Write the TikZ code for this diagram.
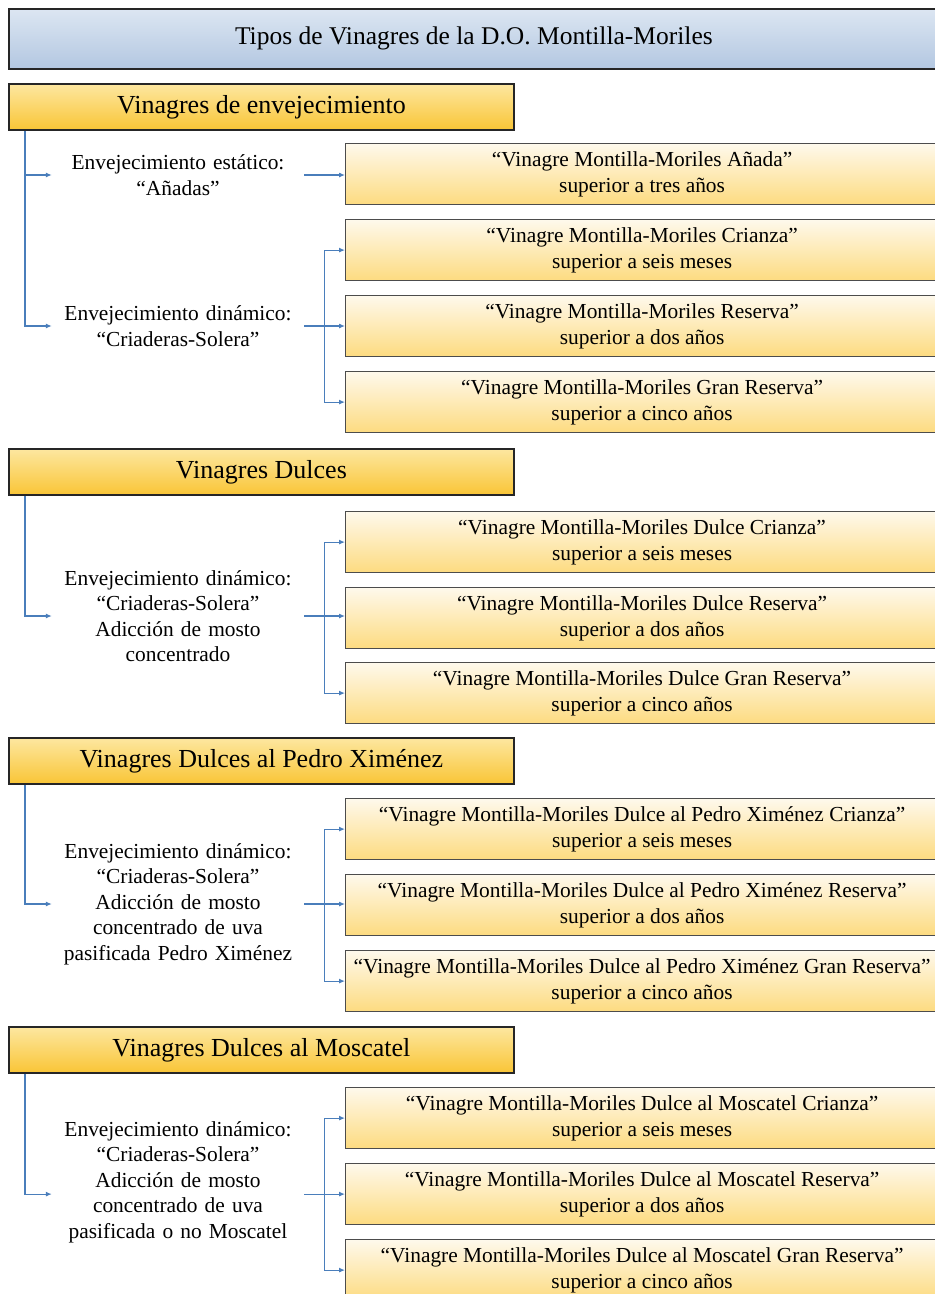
\documentclass[tikz,border=0pt]{standalone}
\usepackage{fontspec}
\setmainfont{Liberation Serif}
\usetikzlibrary{arrows.meta,calc}
\definecolor{titletop}{HTML}{DCE6F2}
\definecolor{titlebot}{HTML}{B3C7E1}
\definecolor{grouptop}{HTML}{FDE7A0}
\definecolor{groupbot}{HTML}{F9C536}
\definecolor{kindtop}{HTML}{FEF9EC}
\definecolor{kindbot}{HTML}{FDDB80}
\definecolor{linkblue}{HTML}{4A7EBB}
\begin{document}
\begin{tikzpicture}[x=1pt,y=-1pt,
  title/.style={draw=black!85, line width=1.8pt, top color=titletop, bottom color=titlebot,
    minimum width=930pt, minimum height=60pt, anchor=north west, font=\fontsize{25.5}{29}\selectfont},
  group/.style={draw=black!85, line width=1.8pt, top color=grouptop, bottom color=groupbot,
    minimum width=505pt, minimum height=46pt, anchor=north west, font=\fontsize{26}{29}\selectfont},
  kind/.style={draw=black!70, line width=1.2pt, top color=kindtop, bottom color=kindbot,
    minimum width=593pt, minimum height=61pt, anchor=north west, align=center,
    font=\fontsize{21.4}{25.5}\selectfont},
  method/.style={align=center, text width=244pt, inner xsep=4pt, font=\fontsize{21.4}{25.5}\selectfont},
  link/.style={draw=linkblue, line width=1.1pt, -{Latex[length=6pt,width=5pt]}}]
\useasboundingbox (0,0) rectangle (935,1294);
\node[title] (main) at (8,8) {Tipos de Vinagres de la D.O. Montilla-Moriles};
% Vinagres de envejecimiento
\node[group] (g1) at (8,83) {Vinagres de envejecimiento};
\node[kind] (k11) at (345,143) {“Vinagre Montilla-Moriles Añada”\\superior a tres años};
\node[kind] (k12) at (345,219) {“Vinagre Montilla-Moriles Crianza”\\superior a seis meses};
\node[kind] (k13) at (345,295) {“Vinagre Montilla-Moriles Reserva”\\superior a dos años};
\node[kind] (k14) at (345,371) {“Vinagre Montilla-Moriles Gran Reserva”\\superior a cinco años};
\node[method] (m11) at (178,175) {Envejecimiento estático:\\“Añadas”};
\node[method] (m12) at (178,326) {Envejecimiento dinámico:\\“Criaderas-Solera”};
\coordinate (s1) at ([xshift=17pt]g1.south west);
\draw[link] (s1) |- (m11.west);
\draw[link] (s1) |- (m12.west);
\draw[link] (m11.east) -- (m11.east -| k11.west);
\draw[link] (m12.east) -- (m12.east -| k13.west);
\coordinate (r1) at ($(m12.east)!0.5!(m12.east -| k13.west)$);
\draw[link] (r1) |- (k12.west);
\draw[link] (r1) |- (k14.west);
% Vinagres Dulces
\node[group] (g2) at (8,448) {Vinagres Dulces};
\node[kind] (k21) at (345,511) {“Vinagre Montilla-Moriles Dulce Crianza”\\superior a seis meses};
\node[kind] (k22) at (345,587) {“Vinagre Montilla-Moriles Dulce Reserva”\\superior a dos años};
\node[kind] (k23) at (345,662) {“Vinagre Montilla-Moriles Dulce Gran Reserva”\\superior a cinco años};
\node[method] (m2) at (178,616) {Envejecimiento dinámico:\\“Criaderas-Solera”\\Adicción de mosto\\concentrado};
\coordinate (s2) at ([xshift=17pt]g2.south west);
\draw[link] (s2) |- (m2.west);
\draw[link] (m2.east) -- (m2.east -| k22.west);
\coordinate (r2) at ($(m2.east)!0.5!(m2.east -| k22.west)$);
\draw[link] (r2) |- (k21.west);
\draw[link] (r2) |- (k23.west);
% Vinagres Dulces al Pedro Ximenez
\node[group] (g3) at (8,737) {Vinagres Dulces al Pedro Ximénez};
\node[kind] (k31) at (345,798) {“Vinagre Montilla-Moriles Dulce al Pedro Ximénez Crianza”\\superior a seis meses};
\node[kind] (k32) at (345,874) {“Vinagre Montilla-Moriles Dulce al Pedro Ximénez Reserva”\\superior a dos años};
\node[kind] (k33) at (345,950) {“Vinagre Montilla-Moriles Dulce al Pedro Ximénez Gran Reserva”\\superior a cinco años};
\node[method] (m3) at (178,904) {Envejecimiento dinámico:\\“Criaderas-Solera”\\Adicción de mosto\\concentrado de uva\\pasificada Pedro Ximénez};
\coordinate (s3) at ([xshift=17pt]g3.south west);
\draw[link] (s3) |- (m3.west);
\draw[link] (m3.east) -- (m3.east -| k32.west);
\coordinate (r3) at ($(m3.east)!0.5!(m3.east -| k32.west)$);
\draw[link] (r3) |- (k31.west);
\draw[link] (r3) |- (k33.west);
% Vinagres Dulces al Moscatel
\node[group] (g4) at (8,1026) {Vinagres Dulces al Moscatel};
\node[kind] (k41) at (345,1087) {“Vinagre Montilla-Moriles Dulce al Moscatel Crianza”\\superior a seis meses};
\node[kind] (k42) at (345,1163) {“Vinagre Montilla-Moriles Dulce al Moscatel Reserva”\\superior a dos años};
\node[kind] (k43) at (345,1239) {“Vinagre Montilla-Moriles Dulce al Moscatel Gran Reserva”\\superior a cinco años};
\node[method] (m4) at (178,1182) {Envejecimiento dinámico:\\“Criaderas-Solera”\\Adicción de mosto\\concentrado de uva\\pasificada o no Moscatel};
\coordinate (s4) at ([xshift=17pt]g4.south west);
\draw[link] (s4) |- (m4.west |- k42.west);
\draw[link] (m4.east |- k42.west) -- (k42.west);
\coordinate (r4) at ($(m4.east |- k42.west)!0.5!(k42.west)$);
\draw[link] (r4) |- (k41.west);
\draw[link] (r4) |- (k43.west);
\end{tikzpicture}
\end{document}
